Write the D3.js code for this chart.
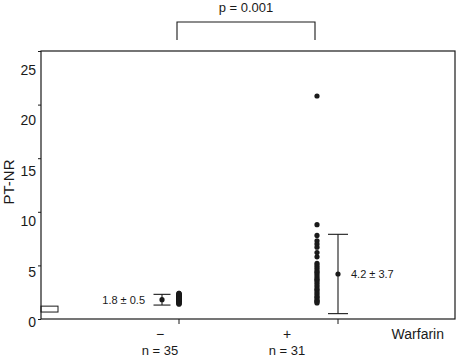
<!DOCTYPE html>
<html>
<head>
<meta charset="utf-8">
<script src="https://cdn.jsdelivr.net/npm/d3@7"></script>
<style>
  body { margin: 0; background: #fff; }
  svg text { font-family: "Liberation Sans", Arial, sans-serif; fill: #1a1a1a; }
</style>
</head>
<body>
<div id="chart"></div>
<script>
// group labels and counts
const groups = ["\u2212", "+"];
const groupCounts = ["n = 35", "n = 31"];

// PT-INR values
const noWarfarin = [1.4, 1.4, 1.5, 1.5, 1.6, 1.6, 1.6, 1.7, 1.7, 1.7, 1.7, 1.8, 1.8, 1.8, 1.8, 1.8,
  1.9, 1.9, 1.9, 1.9, 2.0, 2.0, 2.0, 2.0, 2.1, 2.1, 2.1, 2.2, 2.2, 2.2, 2.3, 2.3, 2.3, 2.4, 2.4];
const withWarfarin = [20.8, 8.8, 7.8, 7.3, 7.0, 6.7, 6.2, 5.8, 5.2, 5.0, 4.8, 4.6, 4.4, 4.3, 4.1, 3.9,
  3.7, 3.6, 3.4, 3.2, 3.0, 2.8, 2.7, 2.5, 2.3, 2.1, 2.0, 1.8, 1.7, 1.6, 1.5];

// mean and SD per group
const means = [1.8, 4.2];
const sds = [0.5, 3.7];
const meanLabels = ["1.8 \u00b1 0.5", "4.2 \u00b1 3.7"];

const yTicks = [0, 5, 10, 15, 20, 25];
const normalRange = [0.65, 1.2];
const pLabel = "p = 0.001";

const margin = { top: 51, right: 2, bottom: 38, left: 41 };
const width = 457 - margin.left - margin.right;
const height = 357 - margin.top - margin.bottom;

const svg = d3.select("#chart").append("svg")
  .attr("width", 457).attr("height", 357);

const g = svg.append("g")
  .attr("transform", "translate(" + margin.left + "," + margin.top + ")");

const x = d3.scalePoint().domain(groups).range([0, width]).padding(1);
const y = d3.scaleLinear().domain([0, 25]).range([height, 0]);
// the tick labels in the original sit a little lower than their ticks
const yLab = d3.scaleLinear().domain([0, 25]).range([height + 3, 19]);

// frame
g.append("rect")
  .attr("width", width).attr("height", height)
  .attr("fill", "none").attr("stroke", "#1a1a1a").attr("stroke-width", 1.2);

// y axis ticks
const yAxis = g.append("g")
  .call(d3.axisLeft(y).tickValues(yTicks).tickSize(3).tickFormat(""));
yAxis.select(".domain").remove();
yAxis.selectAll("line").attr("stroke", "#1a1a1a");

g.selectAll(".ylab").data(yTicks).join("text")
  .attr("class", "ylab")
  .attr("x", -5).attr("y", d => yLab(d))
  .attr("dy", "0.36em")
  .attr("text-anchor", "end")
  .style("font-size", "14px")
  .text(d => d);

g.append("text")
  .attr("transform", "translate(" + (-27) + "," + (y(12.5) - 3) + ") rotate(-90)")
  .attr("text-anchor", "middle")
  .style("font-size", "15px")
  .text("PT-NR");

// normal range box
g.append("rect")
  .attr("x", 0).attr("width", 17)
  .attr("y", y(normalRange[1]))
  .attr("height", y(normalRange[0]) - y(normalRange[1]))
  .attr("fill", "none").attr("stroke", "#1a1a1a");

// offsets of mean/SD bars from the dot columns
const barOffset = [-17, 21];
const capHalf = [8.5, 10];
const tickAt = [0, 1]; // tick under dots for "-", under bar for "+"

// x ticks
groups.forEach((gr, i) => {
  const tx = x(gr) + (tickAt[i] ? barOffset[i] : 0);
  g.append("line")
    .attr("x1", tx).attr("x2", tx)
    .attr("y1", height).attr("y2", height + 5)
    .attr("stroke", "#1a1a1a");
});

// group labels
const labOffset = [-19, -30];
groups.forEach((gr, i) => {
  g.append("text")
    .attr("x", x(gr) + labOffset[i]).attr("y", height + 20)
    .attr("text-anchor", "middle")
    .style("font-size", "14px")
    .text(gr);
  g.append("text")
    .attr("x", x(gr) + labOffset[i]).attr("y", height + 36)
    .attr("text-anchor", "middle")
    .style("font-size", "13px")
    .text(groupCounts[i]);
});

g.append("text")
  .attr("x", width - 11).attr("y", height + 20)
  .attr("text-anchor", "end")
  .style("font-size", "14px")
  .text("Warfarin");

// dots
[noWarfarin, withWarfarin].forEach((vals, i) => {
  g.append("g").selectAll("circle").data(vals).join("circle")
    .attr("cx", x(groups[i]))
    .attr("cy", d => y(d))
    .attr("r", 2.6)
    .attr("fill", "#1a1a1a");
});

// mean +/- SD
means.forEach((m, i) => {
  const bx = x(groups[i]) + barOffset[i];
  const lo = Math.max(0, m - sds[i]);
  const hi = m + sds[i];
  const eg = g.append("g").attr("stroke", "#1a1a1a").attr("stroke-width", 1.1);
  eg.append("line").attr("x1", bx).attr("x2", bx).attr("y1", y(hi)).attr("y2", y(lo));
  eg.append("line").attr("x1", bx - capHalf[i]).attr("x2", bx + capHalf[i]).attr("y1", y(hi)).attr("y2", y(hi));
  eg.append("line").attr("x1", bx - capHalf[i]).attr("x2", bx + capHalf[i]).attr("y1", y(lo)).attr("y2", y(lo));
  g.append("circle").attr("cx", bx).attr("cy", y(m)).attr("r", 2.6).attr("fill", "#1a1a1a");
});

g.append("text")
  .attr("x", x(groups[0]) + barOffset[0] - 17).attr("y", y(means[0]))
  .attr("dy", "0.36em").attr("text-anchor", "end")
  .style("font-size", "11px")
  .text(meanLabels[0]);
g.append("text")
  .attr("x", x(groups[1]) + barOffset[1] + 13).attr("y", y(means[1]))
  .attr("dy", "0.36em").attr("text-anchor", "start")
  .style("font-size", "11px")
  .text(meanLabels[1]);

// significance bracket
const bx0 = x(groups[0]) - 2, bx1 = x(groups[1]) - 2;
svg.append("path")
  .attr("d", "M" + (margin.left + bx0) + ",40V22H" + (margin.left + bx1) + "V40")
  .attr("fill", "none").attr("stroke", "#1a1a1a").attr("stroke-width", 1.1);
svg.append("text")
  .attr("x", margin.left + (bx0 + bx1) / 2).attr("y", 12)
  .attr("text-anchor", "middle")
  .style("font-size", "13px")
  .text(pLabel);
</script>
</body>
</html>
